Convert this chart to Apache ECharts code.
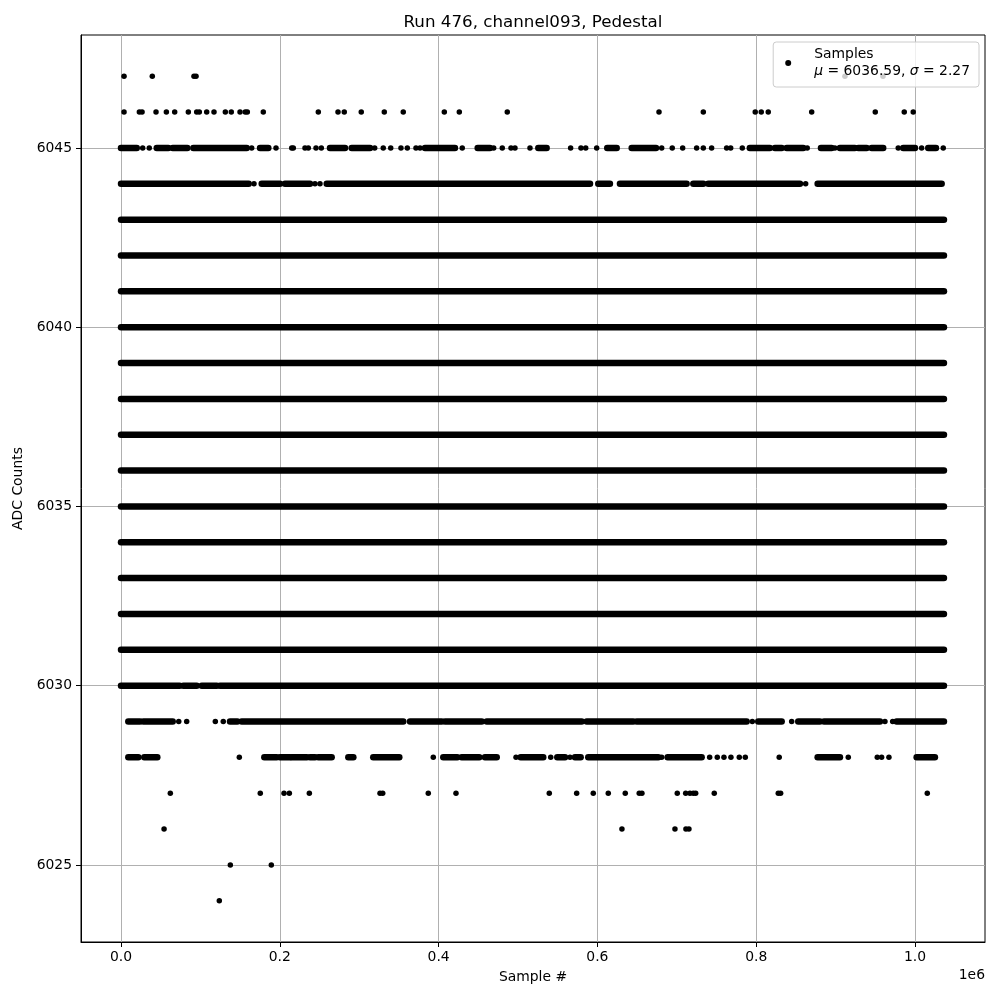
<!DOCTYPE html>
<html>
<head>
<meta charset="utf-8">
<script src="https://cdn.jsdelivr.net/npm/echarts@6/dist/echarts.min.js"></script>
<style>html,body{margin:0;padding:0;background:#fff}#c{width:1000px;height:1000px}</style>
</head>
<body>
<div id="c"></div>
<script>
// ---- data (sample #, ADC count) ----
const TITLE = 'Run 476, channel093, Pedestal';
const MU = '6036.59';
const SIGMA = '2.27';
const xTicks = [0, 200000, 400000, 600000, 800000, 1000000];
const yTicks = [6025, 6030, 6035, 6040, 6045];
const X_MIN = -50400, X_MAX = 1088200;
const Y_MIN = 6022.85, Y_MAX = 6048.15;
const RUN_END = 1036500;

// ADC levels filled by samples over the whole run
const fullLevels = [6031, 6032, 6033, 6034, 6035, 6036, 6037, 6038, 6039, 6040, 6041, 6042, 6043];

// runs of overlapping samples [start, end] per partially filled level
const seg6045 = [[0,19800],[45000,59600],[65100,83500],[91100,158300],[175100,185500],[263200,282100],[290500,313600],[382900,420600],[449200,464700],[525600,536100],[612400,624300],[643200,673800],[792000,817200],[823600,832100],[838400,859300],[881600,895000],[905500,924300],[928600,939100],[945400,960000],[985200,1000000],[1016700,1026400]];
const seg6044 = [[0,160800],[177200,200200],[206500,238000],[259100,590700],[601100,615800],[628400,712400],[720800,733400],[739600,855100],[877400,1033600]];
const seg6030 = [[0,73800],[78500,95300],[101700,120600],[124700,1036500]];
const seg6029 = [[9200,23900],[28100,65100],[137300,146500],[152000,355500],[364000,403900],[408100,454300],[460600,580200],[586500,645200],[649500,788000],[802600,832100],[853000,880300],[885400,955900],[976900,1036500]];
const seg6028 = [[9200,21800],[29300,45700],[180500,196000],[200200,212800],[215000,234000],[238000,244300],[248500,265300],[286300,292600],[317700,350500],[405900,423500],[429100,451200],[458400,473200],[503400,531800],[549500,559200],[571800,578900],[588500,676700],[688500,731300],[877400,905500],[1002100,1025100]];

// isolated samples per level
const pts6047 = [3800, 39400, 91900, 94500, 911800, 959700];
const pts6046 = [3800, 23100, 26500, 44100, 57100, 67600, 84800, 95300, 98600, 107900, 117100, 131400, 138900, 149900, 156500, 159100, 179200, 248500, 273300, 281200, 302600, 331600, 355500, 407200, 426100, 486500, 677600, 733400, 798800, 806400, 815200, 869900, 950000, 986500, 997800];
const pts6045 = [27300, 35600, 164600, 195200, 215000, 217000, 231700, 235900, 245600, 252300, 319500, 330300, 339700, 352600, 360600, 371500, 376600, 429800, 469400, 480200, 491200, 496200, 515100, 566300, 579300, 585300, 599100, 681000, 694300, 707400, 725000, 733400, 743900, 762800, 767900, 782500, 864300, 899200, 978900, 1008400, 1035600];
const pts6044 = [167500, 244300, 250600, 862300];
const pts6029 = [72700, 82700, 118800, 128800, 795100, 844700, 962200, 971900];
const pts6028 = [149000, 393300, 497500, 541200, 565500, 681000, 741400, 751000, 759400, 768200, 778700, 786300, 829000, 916000, 952500, 958000, 967200];
const pts6027 = [62100, 175400, 205300, 212000, 237200, 326200, 329600, 387000, 421900, 539400, 573900, 594800, 613700, 635100, 652700, 656100, 700600, 711200, 716600, 720800, 723800, 747200, 827800, 830800, 1015500];
const pts6026 = [54200, 630900, 697700, 711500, 715300];
const pts6025 = [137700, 189300];
const pts6024 = [123800];

// ---- build series data ----
const segData = [];
fullLevels.forEach(l => segData.push([0, RUN_END, l]));
[[6045, seg6045], [6044, seg6044], [6030, seg6030], [6029, seg6029], [6028, seg6028]]
  .forEach(([l, arr]) => arr.forEach(s => segData.push([s[0], s[1], l])));

const ptData = [];
[[6047, pts6047], [6046, pts6046], [6045, pts6045], [6044, pts6044], [6029, pts6029], [6028, pts6028],
 [6027, pts6027], [6026, pts6026], [6025, pts6025], [6024, pts6024]]
  .forEach(([l, arr]) => arr.forEach(x => ptData.push([x, l])));

const FONT = 'DejaVu Sans';
const chart = echarts.init(document.getElementById('c'), null, {renderer: 'canvas'});
chart.setOption({
  animation: false,
  backgroundColor: '#fff',
  title: {
    text: TITLE, left: 528, top: 9, textAlign: 'center',
    textStyle: {fontFamily: FONT, fontSize: 16.7, fontWeight: 'normal', color: '#000'}
  },
  grid: {left: 81, top: 35, right: 15, bottom: 58, show: true, borderColor: '#000', borderWidth: 1, backgroundColor: 'transparent'},
  legend: {
    right: 21, top: 42,
    data: [{name: 'Samples', icon: 'circle'}],
    itemWidth: 20, itemHeight: 6,
    padding: [4, 9, 7, 12],
    backgroundColor: 'rgba(255,255,255,0.8)', borderColor: '#cccccc', borderWidth: 1, borderRadius: 3,
    formatter: () => 'Samples\n{i|μ} = ' + MU + ', {i|σ} = ' + SIGMA,
    textStyle: {
      fontFamily: FONT, fontSize: 13.9, color: '#000', lineHeight: 17, padding: [0, 0, 0, 11],
      rich: {i: {fontFamily: FONT, fontSize: 13.9, fontStyle: 'italic', color: '#000', lineHeight: 17}}
    }
  },
  xAxis: {
    type: 'value', min: X_MIN, max: X_MAX,
    name: 'Sample #', nameLocation: 'middle', nameGap: 28,
    nameTextStyle: {fontFamily: FONT, fontSize: 13.9, color: '#000'},
    axisLine: {show: true, onZero: false, lineStyle: {color: '#000', width: 1}},
    axisTick: {show: true, length: 5, lineStyle: {color: '#000', width: 1}, customValues: xTicks},
    axisLabel: {customValues: xTicks, margin: 8, fontFamily: FONT, fontSize: 13.9, color: '#000',
      formatter: v => (v / 1e6).toFixed(1)},
    splitLine: {show: true, lineStyle: {color: '#b0b0b0', width: 1}}
  },
  yAxis: {
    type: 'value', min: Y_MIN, max: Y_MAX,
    name: 'ADC Counts', nameLocation: 'middle', nameGap: 54, nameRotate: 90,
    nameTextStyle: {fontFamily: FONT, fontSize: 13.9, color: '#000'},
    axisLine: {show: true, onZero: false, lineStyle: {color: '#000', width: 1}},
    axisTick: {show: true, length: 5, lineStyle: {color: '#000', width: 1}, customValues: yTicks},
    axisLabel: {customValues: yTicks, margin: 9, fontFamily: FONT, fontSize: 13.9, color: '#000',
      formatter: v => String(Math.round(v))},
    splitLine: {show: true, lineStyle: {color: '#b0b0b0', width: 1}}
  },
  graphic: [{
    type: 'text', right: 15, top: 968,
    style: {text: '1e6', fontFamily: FONT, fontSize: 13.9, fill: '#000'}
  }],
  series: [
    {
      name: 'Samples', type: 'custom', data: segData, clip: true,
      encode: {x: [0, 1], y: 2},
      renderItem: (params, api) => {
        const p0 = api.coord([api.value(0), api.value(2)]);
        const p1 = api.coord([api.value(1), api.value(2)]);
        return {type: 'line', shape: {x1: p0[0], y1: p0[1], x2: p1[0], y2: p1[1]},
          style: {stroke: '#000', lineWidth: 6.5, lineCap: 'round'}};
      },
      itemStyle: {color: '#000'}
    },
    {
      name: 'Samples', type: 'scatter', data: ptData, symbol: 'circle', symbolSize: 5.5,
      itemStyle: {color: '#000', opacity: 1}, emphasis: {disabled: true}
    }
  ]
});
</script>
</body>
</html>
